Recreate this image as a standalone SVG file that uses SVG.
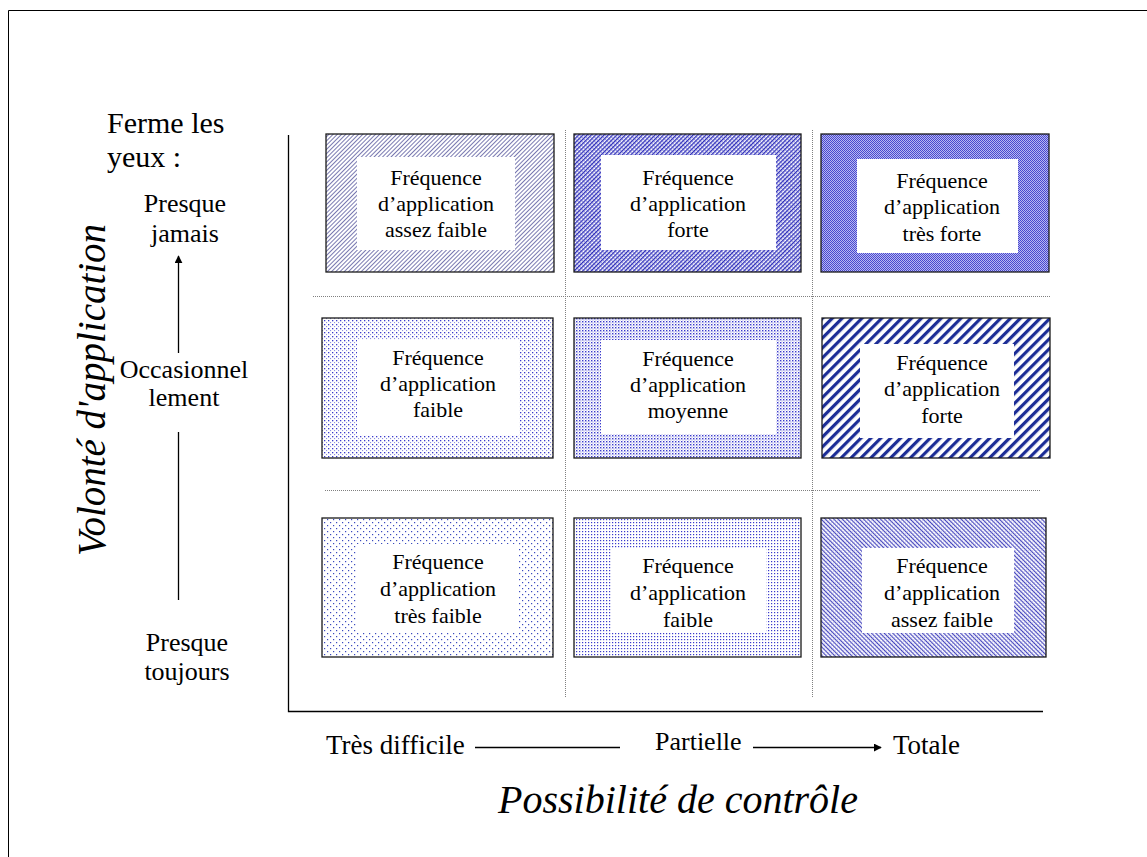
<svg xmlns="http://www.w3.org/2000/svg" width="1147" height="857" viewBox="0 0 1147 857">
<style>
.t{font-family:'Liberation Serif','Times New Roman','DejaVu Serif',serif;font-size:22px;fill:#000;text-anchor:middle}
.l{font-family:'Liberation Serif','Times New Roman','DejaVu Serif',serif;font-size:26px;fill:#000}
.l.big{font-size:30px}
.l.mid{font-size:27px}
.c{text-anchor:middle}
.it{font-family:'Liberation Serif','Times New Roman','DejaVu Serif',serif;font-style:italic;fill:#000}
.box{stroke:#1a1a1a;stroke-width:1.3}
.in{fill:#fff}
.dot{stroke:#808080;stroke-width:1;stroke-dasharray:1 1;fill:none}
.ax{stroke:#000;stroke-width:1.3;fill:none}
</style>
<defs>
<marker id="ah" viewBox="0 0 10 10" refX="9" refY="5" markerWidth="8" markerHeight="8" markerUnits="userSpaceOnUse" orient="auto"><path d="M0,0 L10,5 L0,10 z" fill="#000"/></marker>
<pattern id="p1" width="3" height="3" patternUnits="userSpaceOnUse" patternTransform="rotate(45)"><rect width="3" height="3" fill="#fff"/><rect width="0.9" height="3" fill="#6a6aa8"/></pattern>
<pattern id="p2" width="3" height="3" patternUnits="userSpaceOnUse" patternTransform="rotate(45)"><rect width="3" height="3" fill="#fff"/><rect width="1.3" height="3" fill="#2a2ab8"/><rect width="3" height="0.5" fill="#4a4ac8"/></pattern>
<pattern id="p3" width="2" height="2" patternUnits="userSpaceOnUse"><rect width="2" height="2" fill="#b8b8f0"/><rect width="1" height="1" fill="#4848d0"/><rect x="1" y="1" width="1" height="1" fill="#4848d0"/></pattern>
<pattern id="p4" width="4" height="4" patternUnits="userSpaceOnUse"><rect width="4" height="4" fill="#fff"/><rect width="1.3" height="1.3" fill="#3a3acc"/><rect x="2" y="2" width="1.1" height="1.1" fill="#9090e0"/></pattern>
<pattern id="p5" width="3" height="3" patternUnits="userSpaceOnUse"><rect width="3" height="3" fill="#fff"/><rect width="1.4" height="1.4" fill="#3a3acc"/><rect x="1.5" y="1.5" width="1" height="1" fill="#8080dd"/></pattern>
<pattern id="p6" width="7" height="7" patternUnits="userSpaceOnUse" patternTransform="rotate(45)"><rect width="7" height="7" fill="#fff"/><rect width="3.2" height="7" fill="#1c2d96"/></pattern>
<pattern id="p7" width="6" height="6" patternUnits="userSpaceOnUse"><rect width="6" height="6" fill="#fff"/><rect width="1.2" height="1.2" fill="#3a4abf"/><rect x="3" y="3" width="1.2" height="1.2" fill="#3a4abf"/></pattern>
<pattern id="p8" width="3" height="3" patternUnits="userSpaceOnUse"><rect width="3" height="3" fill="#fff"/><rect width="1.2" height="1.2" fill="#3a3acc"/></pattern>
<pattern id="p9" width="3" height="3" patternUnits="userSpaceOnUse" patternTransform="rotate(-45)"><rect width="3" height="3" fill="#fff"/><rect width="1.1" height="3" fill="#4040bb"/><rect width="3" height="0.4" fill="#9090dd"/></pattern>
</defs>
<rect width="1147" height="857" fill="#fff"/>
<path d="M8.5,857 V10.5 H1147" fill="none" stroke="#000" stroke-width="1"/>

<g id="grid">
<line class="dot" x1="565.5" y1="130" x2="565.5" y2="698"/>
<line class="dot" x1="812.5" y1="130" x2="812.5" y2="698"/>
<line class="dot" x1="313" y1="296.5" x2="1050" y2="296.5"/>
<line class="dot" x1="325" y1="490.5" x2="1040" y2="490.5"/>
</g>

<g id="axes">
<path class="ax" d="M288.5,135 V711.5 H1043"/>
</g>

<g id="connectors">
<line class="ax" x1="178.5" y1="353" x2="178.5" y2="256" marker-end="url(#ah)"/>
<line class="ax" x1="178.5" y1="432" x2="178.5" y2="600"/>
<line class="ax" x1="475" y1="747.5" x2="620" y2="747.5"/>
<line class="ax" x1="753" y1="747.5" x2="881" y2="747.5" marker-end="url(#ah)"/>
</g>

<g id="n1"><rect class="box" x="326" y="134" width="228" height="138" fill="url(#p1)"/><rect class="in" x="357" y="157" width="158" height="93"/>
<text class="t" x="436" y="185">Fréquence</text><text class="t" x="436" y="211">d’application</text><text class="t" x="436" y="237">assez faible</text></g>
<g id="n2"><rect class="box" x="574" y="134" width="227" height="138" fill="url(#p2)"/><rect class="in" x="601" y="155" width="175" height="95"/>
<text class="t" x="688" y="185">Fréquence</text><text class="t" x="688" y="211">d’application</text><text class="t" x="688" y="237">forte</text></g>
<g id="n3"><rect class="box" x="821" y="134" width="228" height="138" fill="url(#p3)"/><rect class="in" x="857" y="159" width="161" height="94"/>
<text class="t" x="942" y="188">Fréquence</text><text class="t" x="942" y="214">d’application</text><text class="t" x="942" y="241">très forte</text></g>

<g id="n4"><rect class="box" x="322" y="318" width="231" height="140" fill="url(#p4)"/><rect class="in" x="357" y="340" width="162" height="95"/>
<text class="t" x="438" y="365">Fréquence</text><text class="t" x="438" y="391">d’application</text><text class="t" x="438" y="417">faible</text></g>
<g id="n5"><rect class="box" x="574" y="318" width="227" height="140" fill="url(#p5)"/><rect class="in" x="601" y="340" width="175" height="94"/>
<text class="t" x="688" y="366">Fréquence</text><text class="t" x="688" y="392">d’application</text><text class="t" x="688" y="418">moyenne</text></g>
<g id="n6"><rect class="box" x="822" y="318" width="228" height="140" fill="url(#p6)"/><rect class="in" x="860" y="344" width="154" height="94"/>
<text class="t" x="942" y="370">Fréquence</text><text class="t" x="942" y="396">d’application</text><text class="t" x="942" y="423">forte</text></g>

<g id="n7"><rect class="box" x="322" y="518" width="231" height="139" fill="url(#p7)"/><rect class="in" x="357" y="544" width="162" height="89"/>
<text class="t" x="438" y="569">Fréquence</text><text class="t" x="438" y="596">d’application</text><text class="t" x="438" y="623">très faible</text></g>
<g id="n8"><rect class="box" x="574" y="518" width="227" height="139" fill="url(#p8)"/><rect class="in" x="611" y="548" width="155" height="85"/>
<text class="t" x="688" y="573">Fréquence</text><text class="t" x="688" y="600">d’application</text><text class="t" x="688" y="627">faible</text></g>
<g id="n9"><rect class="box" x="821" y="518" width="225" height="139" fill="url(#p9)"/><rect class="in" x="862" y="548" width="152" height="85"/>
<text class="t" x="942" y="573">Fréquence</text><text class="t" x="942" y="600">d’application</text><text class="t" x="942" y="627">assez faible</text></g>

<g id="labels-left">
<text class="l big" x="107" y="133">Ferme les</text>
<text class="l big" x="107" y="167">yeux :</text>
<text class="l c" x="185" y="212">Presque</text>
<text class="l c" x="185" y="242">jamais</text>
<text class="l c" x="184" y="378">Occasionnel</text>
<text class="l c" x="184" y="406">lement</text>
<text class="l c" x="187" y="651">Presque</text>
<text class="l c" x="187" y="680">toujours</text>
<text class="it" font-size="39" text-anchor="middle" transform="translate(105,390) rotate(-90)">Volonté d'application</text>
</g>

<g id="labels-bottom">
<text class="l mid" x="326" y="754">Très difficile</text>
<text class="l" x="655" y="750">Partielle</text>
<text class="l mid" x="893" y="754">Totale</text>
<text class="it" font-size="40" text-anchor="middle" x="678" y="813">Possibilité de contrôle</text>
</g>
</svg>
